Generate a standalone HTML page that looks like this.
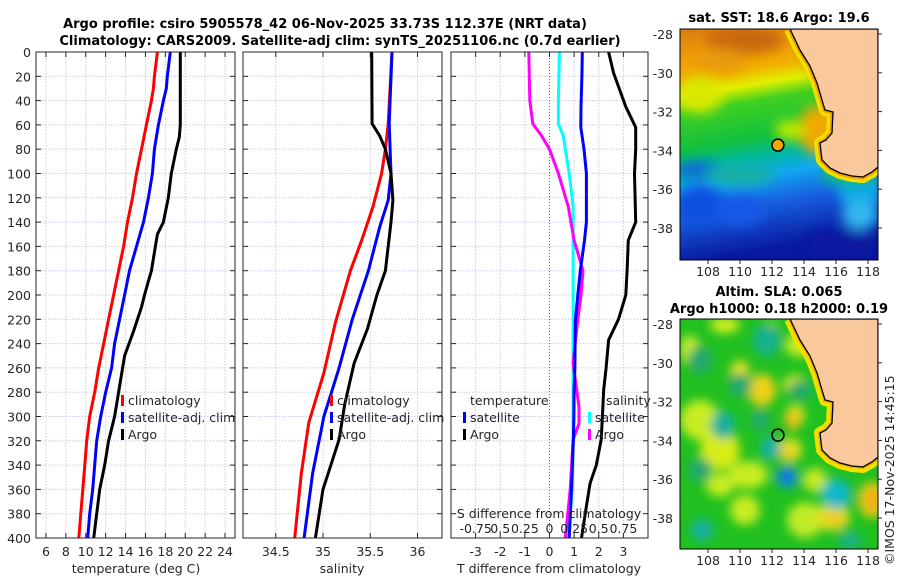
<!DOCTYPE html>
<html><head><meta charset="utf-8"><style>
html,body{margin:0;padding:0;background:#fff;}
svg{display:block;font-family:"DejaVu Sans","Liberation Sans",sans-serif;}
.t{font-size:12.5px;fill:#262626;}
.b{font-size:13px;font-weight:bold;fill:#000;}
</style></head><body>
<svg id="fig" width="900" height="580" viewBox="0 0 900 580">
<defs>
<filter id="blur" x="-10%" y="-10%" width="120%" height="120%"><feGaussianBlur stdDeviation="6"/></filter>
<filter id="blur2" x="-10%" y="-10%" width="120%" height="120%"><feGaussianBlur stdDeviation="5"/></filter>
<clipPath id="clipM1"><rect x="680" y="29" width="198" height="231"/></clipPath>
<clipPath id="clipM2"><rect x="680" y="319" width="198" height="230"/></clipPath>
<linearGradient id="sstg" x1="0" y1="0" x2="0.15" y2="1">
<stop offset="0" stop-color="#d87a10"/><stop offset="0.12" stop-color="#f09a08"/>
<stop offset="0.22" stop-color="#f2b000"/><stop offset="0.29" stop-color="#e0f000"/>
<stop offset="0.36" stop-color="#40d020"/><stop offset="0.52" stop-color="#10c040"/>
<stop offset="0.60" stop-color="#00b8a0"/><stop offset="0.68" stop-color="#10a8f0"/>
<stop offset="0.80" stop-color="#1860e0"/><stop offset="1" stop-color="#0818a0"/>
</linearGradient>
</defs>
<text class="b" x="325" y="28" text-anchor="middle">Argo profile: csiro 5905578_42 06-Nov-2025 33.73S 112.37E (NRT data)</text>
<text class="b" x="340" y="45" text-anchor="middle">Climatology: CARS2009. Satellite-adj clim: synTS_20251106.nc (0.7d earlier)</text>
<g id="panels"></g>
<g id="maps"></g>
<text class="t" x="0" y="0" transform="translate(894,565) rotate(-90)">©IMOS 17-Nov-2025 14:45:15</text>
</svg>
<script>
// ---- data ----
const depthT = [0,20,30,40,60,80,100,120,140,160,180,200,220,240,260,280,300,320,340,360,380,400];
const tempClim = [17.2,16.9,16.8,16.6,16.1,15.6,15.1,14.7,14.2,13.8,13.3,12.8,12.3,11.8,11.3,10.9,10.4,10.1,9.9,9.7,9.5,9.3];
const tempSat = [18.5,18.2,18.1,17.8,17.3,16.9,16.7,16.3,15.8,15.1,14.4,13.9,13.4,12.9,12.6,12.0,11.5,11.1,10.9,10.7,10.4,10.2];
const depthArgo = [0,20,40,60,70,80,100,120,140,150,160,180,200,210,230,250,260,280,300,320,340,360,380,400];
const tempArgo = [19.5,19.5,19.5,19.5,19.4,19.1,18.6,18.3,17.8,17.2,17.0,16.6,15.9,15.6,14.8,13.9,13.7,13.3,12.9,12.3,11.9,11.4,11.1,10.8];
const depthS = [0,59,80,100,127,155,180,223,264,305,347,400];
const salClim = [35.73,35.69,35.66,35.62,35.53,35.41,35.29,35.13,35.01,34.85,34.77,34.70];
const depthSS = [0,59,100,122,144,180,220,260,300,347,400];
const salSat = [35.73,35.70,35.72,35.69,35.60,35.48,35.31,35.17,35.01,34.89,34.80];
const depthSA = [0,59,69,80,100,122,140,180,200,228,256,290,319,360,400];
const salArgo = [35.515,35.52,35.60,35.66,35.72,35.74,35.72,35.66,35.57,35.47,35.33,35.23,35.17,35.00,34.92];
const depthD = [0,17,45,62,80,100,140,155,180,200,220,237,260,278,300,319,340,355,380,400];
const dTsat = [1.33,1.32,1.28,1.27,1.4,1.5,1.5,1.42,1.25,1.15,1.05,1.04,1.03,1.0,0.99,0.97,0.93,0.9,0.85,0.8];
const dTargo = [2.4,2.6,3.1,3.5,3.5,3.45,3.5,3.2,3.15,3.1,2.8,2.4,2.3,2.2,2.15,2.1,1.9,1.65,1.45,1.3];
const depthDS = [0,40,59,69,80,100,127,155,180,200,225,256,292,306,319,360,400];
const dSsat = [0.10,0.09,0.09,0.14,0.16,0.2,0.24,0.24,0.24,0.24,0.24,0.24,0.24,0.24,0.24,0.23,0.19];
const dSargo = [-0.21,-0.2,-0.17,-0.08,0,0.09,0.19,0.25,0.34,0.32,0.28,0.24,0.3,0.3,0.24,0.21,0.16];
const depthTicks = [0,20,40,60,80,100,120,140,160,180,200,220,240,260,280,300,320,340,360,380,400];
const tTicks = [6,8,10,12,14,16,18,20,22,24];
const sTicks = [34.5,35,35.5,36];
const dTicks = [-3,-2,-1,0,1,2,3];
const sdTickLabels = ['-0.75','0.5','0.25','0','0.25','0.5','0.75'];
const latTicks = [-28,-30,-32,-34,-36,-38];
const lonTicks = [108,110,112,114,116,118];
const argoLon = 112.37, argoLat = -33.73;

const NS='http://www.w3.org/2000/svg';
const panels=document.getElementById('panels');
const mapsG=document.getElementById('maps');
function mk(tag,attrs,parent){const e=document.createElementNS(NS,tag);for(const k in attrs)e.setAttribute(k,attrs[k]);(parent||panels).appendChild(e);return e;}
const Y0=52,Y1=538;
function yD(d){return Y0+d*(Y1-Y0)/400;}
const P=[
 {x0:36,x1:235,v0:5,v1:25,name:'temperature'},
 {x0:243,x1:442,v0:35-80/94.5,v1:35+119/94.5,name:'salinity'},
 {x0:451,x1:648,v0:-4,v1:4,name:'difference'}];
function xF(p,v){return p.x0+(v-p.v0)*(p.x1-p.x0)/(p.v1-p.v0);}

P.forEach((p,i)=>{
  const g=mk('g',{});
  
  
  depthTicks.forEach(d=>{
    const y=yD(d);
    if(d>0&&d<400){const l=mk('line',{x1:p.x0,x2:p.x1,y1:y,y2:y,stroke:'#c8cce8','stroke-width':1,'stroke-dasharray':'1.5,1.5'},g);
      }
    mk('line',{x1:p.x0,x2:p.x0+5,y1:y,y2:y,stroke:'#262626'},g);
    mk('line',{x1:p.x1-5,x2:p.x1,y1:y,y2:y,stroke:'#262626'},g);
    if(i===0){const t=mk('text',{x:31,y:y+5,'text-anchor':'end',class:'t'},g);t.textContent=d;
      }
  });
});
function vgrid(p,vals,labels,dotZero){
  vals.forEach((v,k)=>{
    const x=xF(p,v);
    const zero=dotZero&&v===0;
    const l=mk('line',{x1:x,x2:x,y1:Y0,y2:Y1,stroke:zero?'#6a6a40':'#c8cce8','stroke-width':1,'stroke-dasharray':zero?'1,2':'1.5,1.5'});
    
    mk('line',{x1:x,x2:x,y1:Y1-5,y2:Y1,stroke:'#262626'});
    mk('line',{x1:x,x2:x,y1:Y0,y2:Y0+5,stroke:'#262626'});
    const t=mk('text',{x:x,y:556,'text-anchor':'middle',class:'t'});t.textContent=labels[k];
    
  });
}
vgrid(P[0],tTicks,tTicks,false);
vgrid(P[1],sTicks,sTicks,false);
vgrid(P[2],dTicks,dTicks,true);
function series(p,depths,vals,color,name,scale){
  const pts=depths.map((d,k)=>xF(p,vals[k]*(scale||1)).toFixed(1)+','+yD(d).toFixed(1)).join(' ');
  const e=mk('polyline',{points:pts,fill:'none',stroke:color,'stroke-width':3,'stroke-linejoin':'round'});
  
  
}
series(P[0],depthT,tempClim,'#ff0000','temp-climatology-line');
series(P[0],depthT,tempSat,'#0000ff','temp-satellite-line');
series(P[0],depthArgo,tempArgo,'#000000','temp-argo-line');
series(P[1],depthS,salClim,'#ff0000','sal-climatology-line');
series(P[1],depthSS,salSat,'#0000ff','sal-satellite-line');
series(P[1],depthSA,salArgo,'#000000','sal-argo-line');
series(P[2],depthDS,dSsat,'#00ffff','sdiff-satellite-line',4);
series(P[2],depthDS,dSargo,'#ff00ff','sdiff-argo-line',4);
series(P[2],depthD,dTsat,'#0000ff','tdiff-satellite-line');
series(P[2],depthD,dTargo,'#000000','tdiff-argo-line');
P.forEach(p=>{const r=mk('rect',{x:p.x0,y:Y0,width:p.x1-p.x0,height:Y1-Y0,fill:'none',stroke:'#262626','stroke-width':1});
  });
sdTickLabels.forEach((s,k)=>{const t=mk('text',{x:xF(P[2],dTicks[k]),y:533,'text-anchor':'middle',class:'t'});t.textContent=s;
  });
function txt(x,y,s,name,anchor){const t=mk('text',{x:x,y:y,'text-anchor':anchor||'start',class:'t'});t.textContent=s;
  return t;}
txt(549,518,'S difference from climatology','sdiff-axis-title','middle');
txt(136,573,'temperature (deg C)','temp-axis-title','middle');
txt(342,573,'salinity','salinity-axis-title','middle');
txt(549,573,'T difference from climatology','tdiff-axis-title','middle');
function legend(x,y,color,label){
  const r=mk('rect',{x:x,y:y-10,width:3,height:11,fill:color});
  
  txt(x+7,y,label,'legend-entry');
}
legend(121,405,'#ff0000','climatology');legend(121,422,'#0000ff','satellite-adj. clim');legend(121,439,'#000000','Argo');
legend(330,405,'#ff0000','climatology');legend(330,422,'#0000ff','satellite-adj. clim');legend(330,439,'#000000','Argo');
txt(470,405,'temperature','legend-title-temperature');
legend(463,422,'#0000ff','satellite');legend(463,439,'#000000','Argo');
txt(606,405,'salinity','legend-title-salinity');
legend(588,422,'#00ffff','satellite');legend(588,439,'#ff00ff','Argo');

// ---- maps ----
function mx(lon){return 708+(lon-108)*16;}
function my(lat,off){return off+34+(-28-lat)*19.4;}
const coastPx=[[790,29],[800,50],[810,66],[817,83],[822,100],[825,110],[833,112],[832,133],[826,140],[820,143],[821,152],[822,160],[830,168],[840,173],[852,176],[863,177],[872,172],[878,167],[878,29]];
function coastPts(off){return coastPx.map(p=>p[0]+','+(p[1]+off)).join(' ');}
function mapFrame(name){
  const g=mk('g',{},mapsG);
  
  return g;
}
const g1=mapFrame('sst-map');
const c1=mk('g',{'clip-path':'url(#clipM1)'},g1);
mk('rect',{x:680,y:29,width:198,height:231,fill:'url(#sstg)'},c1);
const b1=mk('g',{filter:'url(#blur)'},c1);
[[745,40,40,14,'#c86808'],[830,50,25,30,'#c05a08'],[720,60,25,12,'#e89a10'],[700,95,22,18,'#d8e800'],[820,130,22,25,'#f0a800'],[790,130,15,10,'#c0e800'],
 [700,205,25,20,'#1050e0'],[740,210,25,15,'#1858e8'],[860,190,22,20,'#10a8e8'],[840,245,35,15,'#0818a0'],[860,215,18,15,'#30b8f0'],[700,170,25,8,'#0a60d8'],[740,175,35,10,'#18b0a0'],[850,175,30,10,'#10b880']
].forEach(b=>mk('ellipse',{cx:b[0],cy:b[1],rx:b[2],ry:b[3],fill:b[4]},b1));
mk('polyline',{points:coastPts(0),fill:'none',stroke:'#f0e000','stroke-width':12,'stroke-linejoin':'round'},c1);
mk('polyline',{points:coastPts(0),fill:'none',stroke:'#f0a000','stroke-width':5,'stroke-linejoin':'round'},c1);
mk('polygon',{points:coastPts(0)+' 878,29',fill:'#f9c89c',stroke:'#000','stroke-width':1.3},c1);
const g2=mapFrame('sla-map');
const c2=mk('g',{'clip-path':'url(#clipM2)'},g2);
mk('rect',{x:680,y:319,width:198,height:230,fill:'#20c020'},c2);
const b2=mk('g',{filter:'url(#blur2)'},c2);
[[725,325,15,8,'#d8f020'],[690,350,10,15,'#c8ec30'],[740,375,10,15,'#e8e020'],[762,390,14,16,'#f0d018'],[795,385,12,10,'#e0e820'],[770,330,8,8,'#d8f020'],
 [795,415,10,10,'#d8e820'],[793,420,8,10,'#f0c018'],[700,420,20,20,'#c8ec20'],[720,450,20,20,'#d8ec18'],[748,475,20,14,'#c8ec20'],[790,450,12,12,'#e0e020'],[787,455,6,7,'#f0c820'],
 [720,485,14,12,'#c8ec20'],[745,510,15,15,'#c8ec20'],[805,520,18,18,'#c0ec28'],[832,517,18,14,'#e0e020'],[835,520,9,7,'#f0c820'],[872,500,14,18,'#f0c818'],[873,500,7,10,'#f0a818'],
 [800,345,15,12,'#c8ec20'],[815,480,12,12,'#c8ea20'],[855,455,15,8,'#c0ec28'],
 [767,340,14,16,'#18b090'],[723,425,12,14,'#18b0a0'],[740,385,12,12,'#20a870'],[800,390,12,10,'#20a870'],[770,448,10,12,'#18b0a8'],[700,360,12,14,'#20a870'],[700,470,12,12,'#20a870'],
 [787,477,11,11,'#1090d8'],[787,477,5,5,'#1060e0'],[836,494,15,15,'#10b8c8'],[702,530,11,11,'#18b0a8'],[850,540,12,8,'#18b090'],[760,420,10,10,'#20a870']
].forEach(b=>mk('ellipse',{cx:b[0],cy:b[1],rx:b[2],ry:b[3],fill:b[4]},b2));
mk('polyline',{points:coastPts(290),fill:'none',stroke:'#f0e000','stroke-width':12,'stroke-linejoin':'round'},c2);
mk('polyline',{points:coastPts(290),fill:'none',stroke:'#f0b000','stroke-width':4,'stroke-linejoin':'round'},c2);
mk('polygon',{points:coastPts(290)+' 878,319',fill:'#f9c89c',stroke:'#000','stroke-width':1.3},c2);
[[0,29,231,g1],[290,319,230,g2]].forEach(m=>{
  const off=m[0],top=m[1],h=m[2],g=m[3];
  const r=mk('rect',{x:680,y:top,width:198,height:h,fill:'none',stroke:'#000','stroke-width':1},g);
  
  latTicks.forEach(la=>{const y=my(la,off);mk('line',{x1:878,x2:882,y1:y,y2:y,stroke:'#262626'},g);
    const t=mk('text',{x:673,y:y+5,'text-anchor':'end',class:'t'},g);t.textContent=la;
    });
  lonTicks.forEach(lo=>{const x=mx(lo);mk('line',{x1:x,x2:x,y1:top+h,y2:top+h+4,stroke:'#262626'},g);
    const t=mk('text',{x:x,y:top+h+16,'text-anchor':'middle',class:'t'},g);t.textContent=lo;
    });
  const d=mk('circle',{cx:mx(argoLon),cy:my(argoLat,off),r:6,fill:off?'none':'#f0a800',stroke:'#000','stroke-width':1.5},g);
  
});
function mtxt(x,y,s,name){const t=mk('text',{x:x,y:y,'text-anchor':'middle',class:'b'},mapsG);t.textContent=s;
  }
mtxt(779,22,'sat. SST: 18.6 Argo: 19.6','sst-map-title');
mtxt(779,296,'Altim. SLA: 0.065','sla-map-title');
mtxt(779,313,'Argo h1000: 0.18 h2000: 0.19','argo-height-title');
</script>
</body></html>
